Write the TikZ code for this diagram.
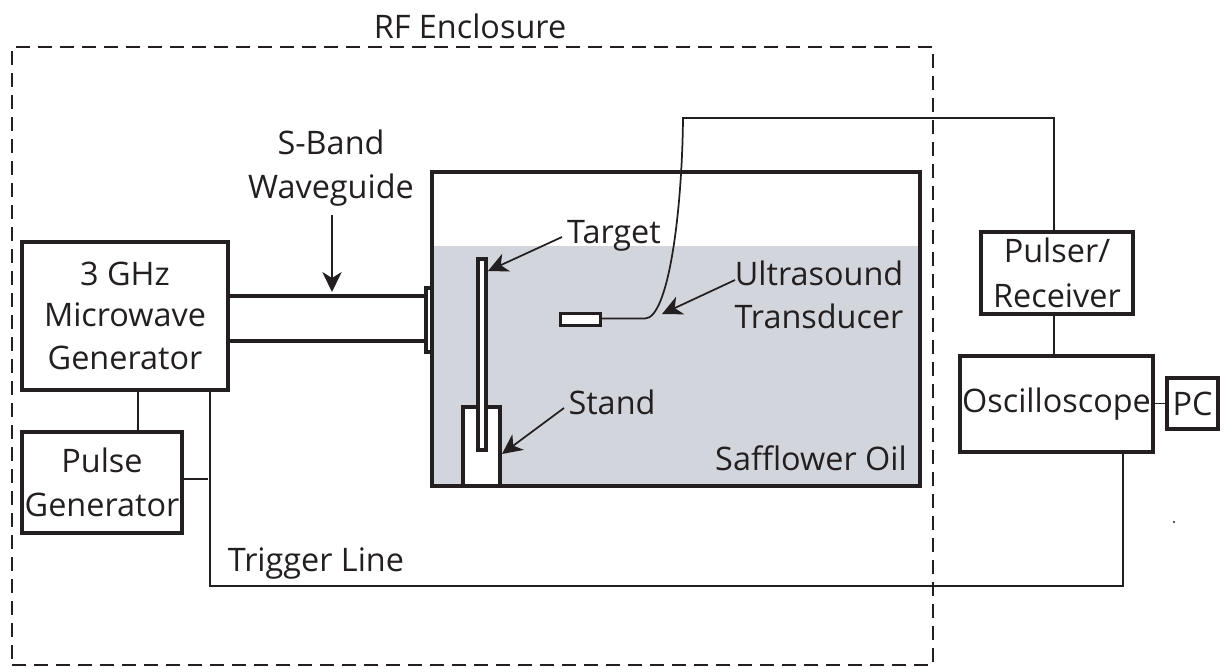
\documentclass[tikz,border=0pt]{standalone}
\usepackage{fontspec}
\setmainfont{Open Sans}
\usetikzlibrary{arrows.meta}
\definecolor{ink}{HTML}{231F20}
\definecolor{oil}{HTML}{D3D5DD}
\tikzset{
  x=0.75pt,y=-0.75pt,
  lbl/.style={inner sep=0pt,outer sep=0pt,text=ink,font=\fontsize{24.3}{32.5}\selectfont,align=center},
  pxbox/.style 2 args={minimum width=#1*0.75pt,minimum height=#2*0.75pt},
  thick box/.style={draw=ink,line width=3pt,fill=white,inner sep=0pt,outer sep=0pt,text=ink,font=\fontsize{24.3}{32.5}\selectfont,align=center},
  thin box/.style={draw=ink,line width=2.5pt,fill=white,inner sep=0pt,outer sep=0pt},
  wire/.style={draw=ink,line width=1.3pt},
  guide/.style={draw=ink,line width=3pt},
  pointer/.style={draw=ink,line width=1.3pt,-{Stealth[length=15pt,width=14.5pt,inset=4.5pt]}},
}
\begin{document}
\begin{tikzpicture}
\useasboundingbox (0,0) rectangle (1226,671);
% enclosure
\node[draw=ink,line width=1.3pt,dash pattern=on 10.5pt off 6pt,inner sep=0pt,outer sep=0pt,pxbox={921}{618}] (rf) at (472.5,356) {};
\node[lbl] (rflabel) at (470,26) {RF Enclosure};
% oil tank
\fill[oil] (432,246) rectangle (920,486);
% flange
\draw[ink,line width=2.5pt,fill=white] (426,288) rectangle (432,352);
\coordinate (flangeW) at (426,320);
\node[draw=ink,line width=3pt,inner sep=0pt,outer sep=0pt,pxbox={488}{314}] (tank) at (676,329) {};
% stand and target
\node[thin box,pxbox={37}{79}] (stand) at (481.5,446.5) {};
\draw[ink,line width=3pt] (stand.south west) -- (stand.south east);
\node[thin box,pxbox={8}{191}] (target) at (482,354.5) {};
\node[thin box,pxbox={40}{12}] (trans) at (580.5,319.5) {};
% boxes
\node[thick box,pxbox={206}{148}] (mw) at (125,316) {\raisebox{-2pt}{3 GHz}\\Microwave\\Generator};
\node[thick box,pxbox={160}{101}] (pg) at (102,482.5) {Pulse\\Generator};
\node[thick box,pxbox={152}{82}] (pr) at (1057,273) {\raisebox{1pt}{Pulser/}\\Receiver};
\node[thick box,pxbox={193}{96}] (osc) at (1056.5,404) {Oscilloscope};
\node[thick box,pxbox={51}{51}] (pc) at (1192.5,403.5) {PC};
% waveguide
\coordinate (wgA) at (228,296);
\coordinate (wgB) at (228,341);
\draw[guide] (wgA) -- (wgA -| flangeW);
\draw[guide] (wgB) -- (wgB -| flangeW);
% connectors
\coordinate (mwTap) at (138,390);
\coordinate (trigTop) at (210,390);
\coordinate (trigLow) at (210,586);
\coordinate (oscTap) at (1123,452);
\coordinate (wireTop) at (683,118);
\coordinate (prTap) at (1054,232);
\coordinate (wireBend) at (645,318.5);
\coordinate (pgTap) at (208,479);
\draw[wire] (mwTap) -- (mwTap |- pg.north);
\draw[wire] (trigTop) -- (trigLow) -- (trigLow -| oscTap) -- (oscTap);
\draw[wire] (pg.east |- pgTap) -- (pgTap);
\draw[wire] (prTap |- pr.south) -- (prTap |- osc.north);
\draw[wire] (osc.east |- pc.west) -- (pc.west);
\draw[wire] (trans.east |- wireBend) -- (wireBend) .. controls (668,318.5) and (682,215) .. (wireTop) -- (wireTop -| prTap) -- (prTap);
% labels
\node[lbl] (sband) at (331,168) {S-Band\\Waveguide};
\node[lbl] (tlabel) at (614,236) {Target};
\node[lbl] (ulabel) at (819,295) {Ultrasound\\Transducer};
\node[lbl] (slabel) at (612,402) {Stand};
\node[lbl] (olabel) at (811,458) {Safflower Oil};
\node[lbl] (trig) at (316,563) {Trigger Line};
% pointers
\coordinate (p1s) at (332,215);
\coordinate (p1e) at (332,292);
\coordinate (p2s) at (562,237);
\coordinate (p2e) at (488,271);
\coordinate (p3s) at (564,408);
\coordinate (p3e) at (502,454);
\coordinate (p4s) at (735,280);
\coordinate (p4e) at (662,314);
\draw[pointer] (p1s) -- (p1e);
\draw[pointer] (p2s) -- (p2e);
\draw[pointer] (p3s) -- (p3e);
\draw[pointer] (p4s) -- (p4e);
\fill[ink] (1174,522) circle (0.9pt);
\end{tikzpicture}
\end{document}
